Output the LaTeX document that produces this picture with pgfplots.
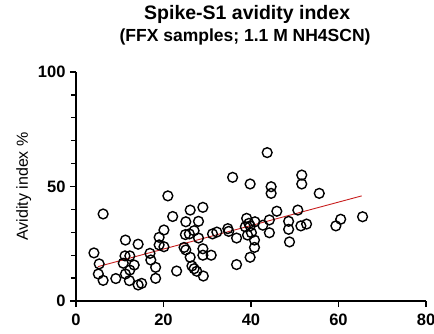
\documentclass[border=0pt]{standalone}
\usepackage{fontspec}
\setmainfont{Liberation Sans}
\usepackage{pgfplots}
\pgfplotsset{compat=1.18}
\definecolor{trend}{RGB}{200,30,30}
\begin{document}
\begin{tikzpicture}[x=1pt,y=1pt]
\path[use as bounding box] (0,0) rectangle (434,333);
\begin{axis}[
  at={(76pt,32pt)}, anchor=south west,
  scale only axis, width=350pt, height=229pt,
  xmin=0, xmax=80, ymin=0, ymax=100,
  axis lines*=left,
  axis line style={black, line width=1.5pt},
  xtick={0,20,40,60,80}, ytick={0,50,100},
  minor y tick num=4,
  tick align=outside,
  major tick length=6pt, minor tick length=5pt,
  every tick/.style={black, line width=1.3pt},
  /pgf/number format/assume math mode=true,
  ticklabel style={font=\bfseries\fontsize{16.5}{16.5}\selectfont},
  xticklabel style={yshift=-3pt},
  yticklabel style={xshift=-1pt},
  ylabel={Avidity index \%},
  ylabel style={font=\fontsize{16}{16}\selectfont, yshift=0pt},
  clip=false,
]
\addplot[only marks, mark=o, mark size=4.9pt, mark options={black, line width=1.4pt}] coordinates {
(4.1,21.0) (5.3,16.2) (5.1,11.8) (6.2,9.0) (6.2,38.0) (9.1,9.8)
(11.3,26.6) (11.2,19.7) (12.3,19.7) (10.8,16.5) (13.3,15.7) (12.3,13.5)
(11.3,11.8) (12.2,8.9) (14.2,7.0) (15.0,7.7) (14.2,24.8) (16.9,20.8)
(17.1,17.9) (18.2,14.7) (18.2,9.9) (19.0,27.8) (20.1,31.0) (19.0,24.5)
(20.1,23.7) (23.0,13.1) (21.0,45.9) (22.1,36.9)
(25.1,34.6) (25.0,29.0) (25.9,29.3) (27.0,30.7) (28.0,27.5) (28.0,34.8)
(26.1,39.7) (29.0,40.9) (24.7,23.4) (25.1,22.3) (29.0,22.8) (26.1,19.1)
(29.0,20.0) (30.9,20.0) (26.5,15.3) (27.0,14.1) (27.6,13.0) (29.1,10.9)
(31.2,29.3) (32.2,30.1) (34.7,31.6) (34.9,30.4) (36.7,27.5) (36.7,15.9)
(35.8,54.0) (39.8,51.1) (39.0,36.1) (39.5,33.9) (38.7,32.4) (39.8,32.8)
(40.1,29.8) (39.2,28.8) (40.8,26.6) (40.8,23.4) (39.8,19.1) (42.7,33.1)
(44.2,35.4) (44.2,29.8) (40.9,34.6)
(43.7,64.8) (51.6,55.0) (51.6,51.1) (44.6,49.9) (44.6,47.0) (55.6,47.0)
(45.9,39.2) (50.7,39.7) (48.6,34.8) (48.6,31.3) (48.8,25.8) (51.4,32.8)
(52.7,33.6) (59.4,32.8) (60.5,35.7) (65.5,36.8)
};
\addplot[trend, line width=0.9pt] coordinates {(5,15.0) (65.3,45.9)};
\node[font=\bfseries\fontsize{19.5}{19.5}\selectfont] at (rel axis cs:0.489,1.253) {Spike-S1 avidity index};
\node[font=\bfseries\fontsize{17.5}{17.5}\selectfont] at (rel axis cs:0.483,1.153) {(FFX samples; 1.1 M NH4SCN)};
\end{axis}
\end{tikzpicture}
\end{document}
